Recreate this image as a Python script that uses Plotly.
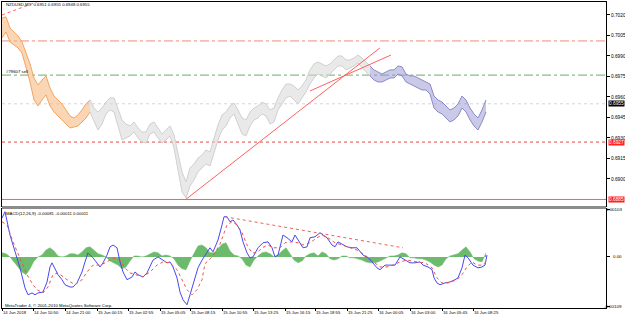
import plotly.graph_objects as go

# ---------------- data ----------------
# price bars (NZDUSD M5), sampled every 4 bar positions: high / low per sample
orange_high = [0.70178,0.70186,0.70105,0.70076,0.70047,0.70003,0.69929,0.69842,0.69739,0.69688,0.69724,0.69754,0.69666,0.69607,0.69578,0.69549,0.69505,0.69461,0.69446,0.69468,0.69505,0.69549,0.69578]
orange_low = [0.70032,0.70076,0.70003,0.69981,0.69959,0.69922,0.69812,0.69710,0.69578,0.69534,0.69578,0.69615,0.69534,0.69490,0.69461,0.69432,0.69402,0.69373,0.69380,0.69388,0.69417,0.69446,0.69490]
gray_high = [0.69578,0.69519,0.69490,0.69519,0.69563,0.69593,0.69593,0.69505,0.69432,0.69402,
             0.69388,0.69417,0.69373,0.69344,0.69344,0.69402,0.69417,0.69373,0.69329,0.69358,
             0.69388,0.69322,0.69197,0.69051,0.68978,0.69080,0.69110,0.69153,0.69175,0.69212,
             0.69197,0.69300,0.69395,0.69468,0.69490,0.69534,0.69556,0.69505,0.69446,0.69432,
             0.69490,0.69519,0.69534,0.69563,0.69549,0.69505,0.69519,0.69593,0.69651,0.69695,
             0.69695,0.69681,0.69651,0.69681,0.69724,0.69798,0.69842,0.69856,0.69842,0.69827,
             0.69842,0.69871,0.69900,0.69900,0.69871,0.69871,0.69885,0.69907,0.69885,0.69856,
             0.69827]
gray_low = [0.69490,0.69417,0.69358,0.69402,0.69476,0.69505,0.69490,0.69388,0.69285,0.69300,
            0.69315,0.69344,0.69300,0.69271,0.69263,0.69329,0.69344,0.69300,0.69263,0.69285,
            0.69315,0.69227,0.69066,0.68905,0.68861,0.68949,0.68992,0.69051,0.69080,0.69110,
            0.69095,0.69197,0.69285,0.69358,0.69388,0.69446,0.69476,0.69402,0.69329,0.69315,
            0.69388,0.69432,0.69446,0.69476,0.69461,0.69402,0.69417,0.69505,0.69549,0.69593,
            0.69607,0.69578,0.69549,0.69593,0.69637,0.69695,0.69739,0.69768,0.69754,0.69739,
            0.69768,0.69798,0.69827,0.69827,0.69798,0.69812,0.69827,0.69849,0.69812,0.69783,
            0.69754]
blue_high = [0.69827,0.69798,0.69783,0.69768,0.69783,0.69798,0.69798,0.69827,0.69820,0.69768,
             0.69754,0.69754,0.69739,0.69724,0.69710,0.69695,0.69607,0.69578,0.69563,0.69534,
             0.69505,0.69519,0.69549,0.69607,0.69578,0.69519,0.69476,0.69446,0.69505,0.69578]
blue_low = [0.69754,0.69724,0.69710,0.69710,0.69724,0.69739,0.69739,0.69768,0.69754,0.69710,
            0.69695,0.69681,0.69666,0.69651,0.69651,0.69622,0.69519,0.69490,0.69476,0.69446,
            0.69417,0.69432,0.69461,0.69519,0.69490,0.69432,0.69388,0.69358,0.69417,0.69490]
segment_start = [2, 90, 370]   # first bar position of each colour segment
bar_step = 4

# horizontal price levels
level_resist = 0.7001
level_sell = 0.6976
level_bid = 0.6955
level_red_dot = 0.6927
level_support = 0.6885

# trend lines (bar position, price)
trend1_x = [185, 380]; trend1_y = [0.68846, 0.69959]
trend2_x = [310, 391]; trend2_y = [0.69644, 0.69907]
trend3_x = [2, 42];    trend3_y = [0.70200, 0.70310]

# MACD
macd_x = [2,5,10,15,20,25,28,32,35,38,43,47,50,52,55,58,62,65,70,73,77,82,85,88,93,97,100,103,107,110,
          113,117,120,123,127,132,135,138,143,147,150,153,158,163,167,170,173,177,180,183,187,190,193,198,202,206,210,213,218,222,
          224,227,230,233,237,240,243,247,250,253,258,263,268,272,275,278,282,283,287,292,295,298,303,307,310,315,320,323,327,332,
          335,338,343,347,352,357,363,368,372,377,380,385,390,395,400,405,410,415,420,423,428,432,434,437,440,445,450,455,458,462,
          465,468,473,478,482,485,487]
macd_main = [0.00085,0.00099,0.00048,0.00011,-0.00024,-0.00068,-0.00083,-0.00079,-0.00083,-0.00079,
             -0.00077,-0.00055,-0.00022,-0.00013,-0.00028,-0.00039,-0.00050,-0.00061,-0.00066,-0.00066,
             -0.00057,-0.00033,-0.00011,0.00009,-0.00002,-0.00013,-0.00022,-0.00013,0.00004,0.00022,
             0.00026,0.00020,-0.00011,-0.00033,-0.00050,-0.00044,-0.00033,-0.00039,-0.00044,-0.00035,
             -0.00022,-0.00007,0.0,-0.00007,-0.00013,-0.00011,-0.00022,-0.00046,-0.00077,-0.00094,
             -0.00105,-0.00083,-0.00061,-0.00024,-0.00007,0.00007,0.00020,0.00011,0.00037,0.00070,
             0.00088,0.00088,0.00077,0.00081,0.00070,0.00059,0.00033,0.00009,-0.00002,0.0,
             0.00020,0.00031,0.00033,0.00020,0.0,0.00004,0.00042,0.00048,0.00042,0.00033,
             0.00048,0.00037,0.00020,0.00022,0.00042,0.00044,0.00053,0.00048,0.00042,0.00026,
             0.00022,0.00033,0.00026,0.00022,0.00020,0.00020,0.00004,-0.00002,-0.00011,-0.00024,
             -0.00028,-0.00018,-0.00018,-0.00018,0.0,-0.00007,-0.00013,-0.00013,-0.00011,-0.00018,
             -0.00022,-0.00028,-0.00046,-0.00057,-0.00061,-0.00057,-0.00055,-0.00050,-0.00046,-0.00024,
             0.00004,-0.00002,-0.00018,-0.00024,-0.00022,-0.00018,0.00004]
signal_x = [2,7,13,20,27,33,37,43,48,53,58,67,75,82,87,93,100,107,113,120,
            125,130,137,143,150,157,163,170,177,182,187,192,197,202,205,213,220,227,232,237,
            242,247,252,257,262,268,273,280,285,292,298,303,310,317,322,328,335,342,348,357,
            365,373,380,387,393,400,407,417,425,432,437,442,448,457,462,467,472,477,482,486]
signal = [0.00077,0.00070,0.00033,-0.00002,-0.00039,-0.00061,-0.00072,-0.00079,-0.00066,-0.00039,
          -0.00035,-0.00050,-0.00061,-0.00050,-0.00033,-0.00018,-0.00018,-0.00011,-0.00002,-0.00007,
          -0.00024,-0.00035,-0.00039,-0.00044,-0.00033,-0.00018,-0.00011,-0.00013,-0.00028,-0.00050,
          -0.00072,-0.00083,-0.00072,-0.00050,-0.00015,0.00002,0.00028,0.00070,0.00077,0.00070,
          0.00053,0.00026,0.00009,0.00009,0.00020,0.00026,0.00020,0.00020,0.00031,0.00033,
          0.00031,0.00026,0.00031,0.00042,0.00048,0.00042,0.00031,0.00026,0.00022,0.00015,
          0.00004,-0.00011,-0.00022,-0.00022,-0.00018,-0.00011,-0.00007,-0.00011,-0.00013,-0.00024,
          -0.00046,-0.00057,-0.00057,-0.00050,-0.00039,-0.00022,-0.00011,-0.00018,-0.00018,-0.00011]
histogram = [0.00009,0.00007,0.0,-0.00011,-0.00022,-0.00033,-0.00039,-0.00026,-0.00009,0.0,
             0.00004,0.00015,0.00020,0.00013,0.00002,0.0,0.00002,0.00007,0.00007,0.00004,
             0.00011,0.00020,0.00022,0.00015,0.00007,0.00004,0.0,-0.00009,-0.00013,-0.00018,
             -0.00026,-0.00022,-0.00009,0.00002,0.00002,0.0,0.00002,0.00007,0.00011,0.00009,
             0.00002,0.00004,0.00002,-0.00004,-0.00018,-0.00026,-0.00028,-0.00009,0.00009,0.00024,
             0.00026,0.00020,0.00009,0.00009,0.00018,0.00028,0.00031,0.00013,0.00004,0.00002,
             -0.00004,-0.00018,-0.00022,-0.00007,0.00002,0.00009,0.00011,0.00007,0.0,0.00004,
             0.00013,0.00020,0.00007,-0.00007,-0.00013,-0.00009,0.00002,0.00007,0.00009,0.00002,
             0.00011,0.00007,-0.00004,-0.00007,-0.00004,0.00002,0.00002,-0.00002,-0.00002,-0.00004,
             -0.00007,-0.00011,-0.00013,-0.00013,-0.00011,-0.00007,-0.00002,0.00002,0.00002,0.00004,
             0.00009,0.00007,-0.00002,-0.00002,-0.00004,-0.00004,-0.00007,-0.00011,-0.00018,-0.00022,
             -0.00018,-0.00004,0.00002,0.00004,0.00007,0.00015,0.00022,0.00011,-0.00004,-0.00009,
             -0.00011,0.00009]
macd_trend_x = [225, 403]; macd_trend_y = [0.00088, 0.00020]

# tick labels
price_ticks = [0.7020, 0.7005, 0.6990, 0.6975, 0.6960, 0.6945, 0.6930, 0.6915, 0.6900]
macd_ticks = [0.00103, 0.0, -0.00109]
macd_tick_text = ["0.00103", "0.00", "-0.00109"]
time_tick_pos = [2, 33, 65, 97, 128, 160, 190, 222, 253, 285, 315, 347, 378, 410, 442, 473]
time_tick_text = ["14 Jun 2018", "14 Jun 10:50", "14 Jun 21:00", "15 Jun 00:15", "15 Jun 02:55",
                  "15 Jun 05:05", "15 Jun 08:15", "15 Jun 10:55", "15 Jun 13:25", "15 Jun 16:15",
                  "15 Jun 18:55", "15 Jun 21:25", "16 Jun 00:05", "16 Jun 03:00", "16 Jun 05:45",
                  "16 Jun 08:25"]

# ---------------- figure ----------------
W, H = 625, 319
ML, MR, MT, MB = 2, 19, 2, 11
PH = H - MT - MB
PW = W - ML - MR
def py(px):
    return (H - MB - px) / PH

FONT = "Liberation Sans, Arial, sans-serif"
fig = go.Figure()

segments = [(orange_high, orange_low, "#F4A460", "rgba(246,180,120,0.55)"),
            (gray_high, gray_low, "#D0D0D0", "rgba(215,215,215,0.55)"),
            (blue_high, blue_low, "#8A8ACB", "rgba(150,150,210,0.5)")]
for (hi, lo, col, fillc), start in zip(segments, segment_start):
    xs = [start + bar_step * i for i in range(len(hi))]
    fig.add_trace(go.Scatter(x=xs, y=lo, mode="lines", line=dict(color=col, width=1),
                             hoverinfo="skip", showlegend=False, xaxis="x", yaxis="y"))
    fig.add_trace(go.Scatter(x=xs, y=hi, mode="lines", line=dict(color=col, width=1),
                             fill="tonexty", fillcolor=fillc,
                             hoverinfo="skip", showlegend=False, xaxis="x", yaxis="y"))

# horizontal levels
def hline(level, color, dash, width=1):
    fig.add_shape(type="line", xref="paper", x0=0, x1=1, yref="y", y0=level, y1=level,
                  line=dict(color=color, dash=dash, width=width), layer="below")
hline(level_resist, "#F08A78", "dashdot")
hline(level_sell, "#6AAE6A", "dashdot")
hline(level_bid, "#D4D4E4", "dot")
hline(level_red_dot, "#E84848", "dot")
hline(level_support, "#F06060", "solid")

# trend lines
for tx, ty, dash in [(trend1_x, trend1_y, "solid"), (trend2_x, trend2_y, "solid"), (trend3_x, trend3_y, "dot")]:
    fig.add_trace(go.Scatter(x=tx, y=ty, mode="lines", line=dict(color="#FF6060", width=1, dash=dash),
                             hoverinfo="skip", showlegend=False, xaxis="x", yaxis="y"))

# MACD panel
fig.add_trace(go.Scatter(x=list(range(2, 2 + bar_step * len(histogram), bar_step)), y=histogram,
                         mode="lines", line=dict(color="#66B866", width=0.5),
                         fill="tozeroy", fillcolor="#6CBB6C",
                         hoverinfo="skip", showlegend=False, xaxis="x2", yaxis="y2"))
fig.add_trace(go.Scatter(x=macd_x, y=macd_main, mode="lines", line=dict(color="#4848F0", width=1),
                         hoverinfo="skip", showlegend=False, xaxis="x2", yaxis="y2"))
fig.add_trace(go.Scatter(x=signal_x, y=signal, mode="lines", line=dict(color="#F05050", width=1, dash="dot"),
                         hoverinfo="skip", showlegend=False, xaxis="x2", yaxis="y2"))
fig.add_trace(go.Scatter(x=macd_trend_x, y=macd_trend_y, mode="lines", line=dict(color="#F06060", width=1, dash="dot"),
                         hoverinfo="skip", showlegend=False, xaxis="x2", yaxis="y2"))

main_bottom = py(206)
macd_top = py(209)
xr = [2, 606]
fig.update_layout(
    width=W, height=H, margin=dict(l=ML, r=MR, t=MT, b=MB, autoexpand=False),
    paper_bgcolor="white", plot_bgcolor="white",
    font=dict(family=FONT, size=5, color="black"),
    xaxis=dict(domain=[0, 1], range=xr, showticklabels=False, showgrid=False, zeroline=False,
               showline=True, linecolor="black", linewidth=1, mirror=True, ticks="", anchor="y",
               automargin=False),
    yaxis=dict(domain=[main_bottom, 1], range=[0.68802, 0.70295], side="right", anchor="x",
               tickvals=price_ticks, ticktext=[f"{v:.4f}" for v in price_ticks],
               ticks="outside", ticklen=3, tickcolor="black", tickfont=dict(size=4.8),
               showgrid=False, zeroline=False, showline=True, linecolor="black", linewidth=1, mirror=True,
               automargin=False),
    xaxis2=dict(domain=[0, 1], range=xr, anchor="y2", tickvals=time_tick_pos, ticktext=time_tick_text,
                ticks="outside", ticklen=2, tickcolor="black", ticklabelposition="outside right",
                tickangle=0, tickfont=dict(size=4.2), showgrid=False, zeroline=False,
                showline=True, linecolor="black", linewidth=1, mirror=True, automargin=False),
    yaxis2=dict(domain=[0, macd_top], range=[-0.00112, 0.00105], side="right", anchor="x2",
                tickvals=macd_ticks, showticklabels=False, ticks="outside", ticklen=3,
                tickcolor="black", showgrid=False, zeroline=False,
                showline=True, linecolor="black", linewidth=1, mirror=True, automargin=False),
)

# MACD axis labels (right-aligned inside the figure so they are not clipped)
for v, t in zip(macd_ticks, macd_tick_text):
    fig.add_annotation(xref="paper", yref="y2", x=(W - 1 - ML) / PW, y=v, text=t, showarrow=False,
                       xanchor="right", yanchor="middle", font=dict(size=4.4, color="black", family=FONT))

# separator bar between panels
fig.add_shape(type="rect", xref="paper", yref="paper", x0=0, x1=1, y0=macd_top, y1=main_bottom,
              fillcolor="#8C8C8C", line=dict(width=0))

# right-side price boxes
for lvl, bg in [(level_bid, "black"), (level_red_dot, "#FF2020"), (level_support, "#FF2020")]:
    fig.add_annotation(xref="paper", yref="y", x=1, y=lvl, text=f"{lvl:.4f}", showarrow=False,
                       xanchor="left", xshift=2, bgcolor=bg, borderpad=0,
                       font=dict(size=4.8, color="white", family=FONT))

# texts
def label(text, xpx, ypx, size=4.3):
    fig.add_annotation(xref="paper", yref="paper", x=(xpx - ML) / PW, y=py(ypx),
                       text=text, showarrow=False, xanchor="left", yanchor="middle",
                       font=dict(size=size, color="black", family=FONT))
label("NZDUSD,M5  0.6951 0.6955 0.6948 0.6955", 4, 5)
label("#79607 sell", 4, 72)
label("MACD(12,26,9) -0.00081 -0.00011 0.00011", 4, 213)
label("MetaTrader 4, © 2001-2010 MetaQuotes Software Corp.", 3, 305)

fig.write_html("out.html")
